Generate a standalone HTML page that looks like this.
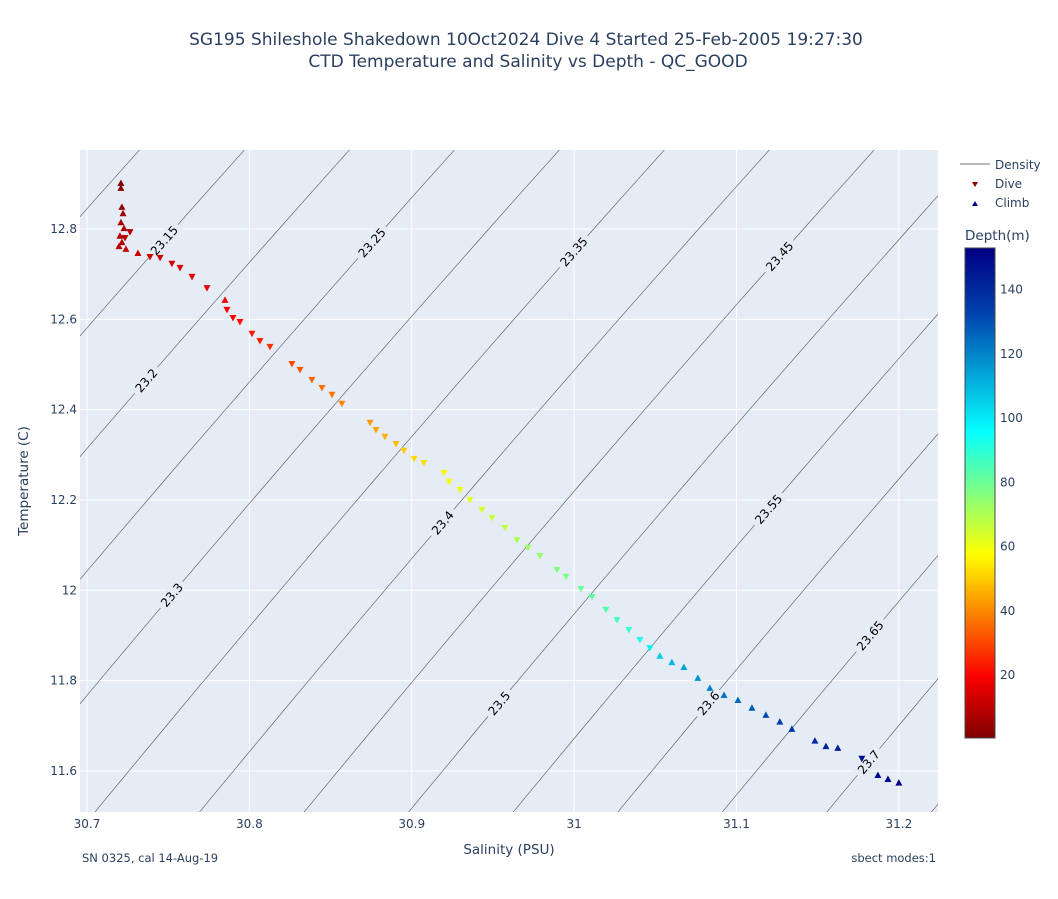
<!DOCTYPE html>
<html><head><meta charset="utf-8">
<style>
html,body{margin:0;padding:0;background:#fff;}
svg text{font-family:"DejaVu Sans","Liberation Sans",sans-serif;}
</style></head>
<body>
<svg id="chart" width="1058" height="894" viewBox="0 0 1058 894" xmlns="http://www.w3.org/2000/svg">
<defs>
<clipPath id="clip"><rect x="80" y="150" width="858" height="662"/></clipPath>
<linearGradient id="jet" x1="0" y1="1" x2="0" y2="0">
<stop offset="0" stop-color="rgb(128,0,0)"/>
<stop offset="0.125" stop-color="rgb(250,0,0)"/>
<stop offset="0.375" stop-color="rgb(255,255,0)"/>
<stop offset="0.625" stop-color="rgb(5,255,255)"/>
<stop offset="0.875" stop-color="rgb(0,60,170)"/>
<stop offset="1" stop-color="rgb(0,0,131)"/>
</linearGradient>
</defs>
<text x="526" y="45" text-anchor="middle" font-size="17" fill="#2a3f5f">SG195 Shileshole Shakedown 10Oct2024 Dive 4 Started 25-Feb-2005 19:27:30</text>
<text x="528" y="67" text-anchor="middle" font-size="17" fill="#2a3f5f">CTD Temperature and Salinity vs Depth - QC_GOOD</text>
<rect x="80" y="150" width="858" height="662" fill="#e5ecf6"/>
<g id="grid"></g>
<g id="contours" clip-path="url(#clip)"></g>
<g id="marks" clip-path="url(#clip)"></g>
<g id="axes"></g>
<text x="509" y="854" text-anchor="middle" font-size="13.5" fill="#2a3f5f">Salinity (PSU)</text>
<text transform="translate(28,481) rotate(-90)" text-anchor="middle" font-size="13.5" fill="#2a3f5f">Temperature (C)</text>
<text x="82" y="862" font-size="11.5" fill="#2a3f5f">SN 0325, cal 14-Aug-19</text>
<text x="936" y="862" text-anchor="end" font-size="11.5" fill="#2a3f5f">sbect modes:1</text>
<g>
<g><line x1="960" y1="164" x2="990" y2="164" stroke="#444" stroke-width="0.8"/><text x="995" y="169" font-size="12" fill="#2a3f5f">Density</text></g>
<g><path d="M972,182 L978,182 L975,187 Z" fill="#8b0000"/><text x="995" y="188" font-size="12" fill="#2a3f5f">Dive</text></g>
<g><path d="M972,206 L978,206 L975,201 Z" fill="#00008b"/><text x="995" y="207" font-size="12" fill="#2a3f5f">Climb</text></g>
</g>
<text x="965" y="240" font-size="13.5" fill="#2a3f5f">Depth(m)</text>
<rect x="965" y="248" width="30" height="490" fill="url(#jet)" stroke="#444" stroke-width="1"/>
<g id="cbticks"></g>
</svg>
<script>
const xTicks=[30.7,30.8,30.9,31,31.1,31.2];
const yTicks=[11.6,11.8,12,12.2,12.4,12.6,12.8];
const densityLevels=[23.1,23.15,23.2,23.25,23.3,23.35,23.4,23.45,23.5,23.55,23.6,23.65,23.7,23.75,23.8];
const labelLevels=[23.15,23.2,23.25,23.3,23.35,23.4,23.45,23.5,23.55,23.6,23.65,23.7];
const labelTemps=[12.775,12.465,12.77,11.99,12.75,12.15,12.74,11.75,12.18,11.75,11.9,11.62];
const cbTicks=[20,40,60,80,100,120,140];
const diveS=[30.7265,30.7234,30.7388,30.745,30.7523,30.7573,30.7647,30.7739,30.7862,30.7899,30.7942,30.8016,30.8065,30.8127,30.8262,30.8312,30.8385,30.8447,30.8509,30.857,30.8743,30.878,30.8835,30.8903,30.8952,30.9014,30.9075,30.9198,30.9229,30.9297,30.9358,30.9432,30.9494,30.9574,30.9648,30.9716,30.9789,30.9894,30.995,31.0042,31.011,31.0196,31.0264,31.0337,31.0405,31.0467,31.1772];
const diveT=[12.793,12.780,12.738,12.736,12.723,12.714,12.694,12.669,12.621,12.603,12.594,12.568,12.552,12.539,12.501,12.488,12.466,12.448,12.433,12.413,12.371,12.355,12.340,12.324,12.309,12.291,12.282,12.260,12.240,12.222,12.200,12.178,12.160,12.138,12.111,12.094,12.076,12.045,12.030,12.003,11.985,11.957,11.934,11.912,11.890,11.872,11.627];
const diveD=[8,9,12,13,14,15,16,17,19,20,21,23,24,26,30,32,34,36,37,39,42,44,46,48,50,52,53,56,58,60,62,64,66,68,70,72,74,77,78,80,82,84,86,88,92,98,147];
const climbS=[30.7209,30.7209,30.7215,30.7222,30.7209,30.7228,30.7203,30.7215,30.7197,30.724,30.7314,30.785,31.0528,31.0602,31.0676,31.0762,31.0836,31.0923,31.1009,31.1095,31.1181,31.1267,31.1341,31.1483,31.1551,31.1624,31.1871,31.1933,31.2];
const climbT=[12.902,12.891,12.849,12.835,12.815,12.802,12.785,12.771,12.762,12.756,12.747,12.643,11.855,11.841,11.830,11.806,11.784,11.768,11.757,11.740,11.724,11.709,11.693,11.667,11.655,11.651,11.591,11.582,11.574];
const climbD=[1,2,4,5,6,7,8,9,10,11,12,19,106,110,114,117,120,123,125,128,131,134,136,140,142,144,149,150,152];

const NS="http://www.w3.org/2000/svg";
const X0=80,X1=938,Y0=150,Y1=812;
const sMin=30.6957,sMax=31.2241,tMin=11.509,tMax=12.975;
const dMin=0.4,dMax=153;
function xs(s){return X0+(s-sMin)/(sMax-sMin)*(X1-X0);}
function ys(t){return Y1-(t-tMin)/(tMax-tMin)*(Y1-Y0);}
function cy(d){return 738-(d-dMin)/(dMax-dMin)*490;}
function mk(tag,attrs,parent){const e=document.createElementNS(NS,tag);for(const k in attrs)e.setAttribute(k,attrs[k]);parent.appendChild(e);return e;}
function sigma(S,T){
 const rw=999.842594+6.793952e-2*T-9.095290e-3*T*T+1.001685e-4*T**3-1.120083e-6*T**4+6.536332e-9*T**5;
 const A=8.24493e-1-4.0899e-3*T+7.6438e-5*T*T-8.2467e-7*T**3+5.3875e-9*T**4;
 const B=-5.72466e-3+1.0227e-4*T-1.6546e-6*T*T;
 return rw+A*S+B*Math.pow(S,1.5)+4.8314e-4*S*S-1000+0.0055;
}
function sAt(sig,T){let S=31;for(let i=0;i<30;i++){const f=sigma(S,T)-sig;const df=(sigma(S+0.001,T)-sigma(S-0.001,T))/0.002;S-=f/df;}return S;}
const stops=[[0,[0,0,131]],[0.125,[0,60,170]],[0.375,[5,255,255]],[0.625,[255,255,0]],[0.875,[250,0,0]],[1,[128,0,0]]];
function jet(d){let t=1-(d-dMin)/(dMax-dMin);t=Math.max(0,Math.min(1,t));
 for(let i=1;i<stops.length;i++){if(t<=stops[i][0]){const a=stops[i-1],b=stops[i];const f=(t-a[0])/(b[0]-a[0]);
 return 'rgb('+a[1].map((v,j)=>Math.round(v+(b[1][j]-v)*f)).join(',')+')';}}return 'rgb(128,0,0)';}

const grid=document.getElementById('grid'),axes=document.getElementById('axes');
xTicks.forEach(v=>{const x=xs(v);
 const l=mk('line',{x1:x,x2:x,y1:Y0,y2:Y1,stroke:'#fff','stroke-width':1},grid);
 
 
 const t=mk('text',{x:x,y:828,'text-anchor':'middle','font-size':12,fill:'#2a3f5f'},axes);t.textContent=String(v);
 
 
});
yTicks.forEach(v=>{const y=ys(v);
 const l=mk('line',{x1:X0,x2:X1,y1:y,y2:y,stroke:'#fff','stroke-width':1},grid);
 
 
 const t=mk('text',{x:77,y:y+4,'text-anchor':'end','font-size':12,fill:'#2a3f5f'},axes);t.textContent=String(v);
 
 
});
const cg=document.getElementById('contours');
densityLevels.forEach(lv=>{let d='';for(let i=0;i<=20;i++){const T=tMin-0.05+(tMax-tMin+0.1)*i/20;d+=(i?'L':'M')+xs(sAt(lv,T)).toFixed(1)+','+ys(T).toFixed(1);}
 const p=mk('path',{d:d,fill:'none',stroke:'#555','stroke-width':0.6},cg);
 
 
});
labelLevels.forEach((lv,i)=>{const T=labelTemps[i];const S=sAt(lv,T);const x=xs(S),y=ys(T);
 const x2=xs(sAt(lv,T+0.1)),y2=ys(T+0.1);const ang=Math.atan2(y2-y,x2-x)*180/Math.PI;
 const g=mk('g',{transform:'translate('+x+','+y+') rotate('+ang+')'},cg);
 
 
 const w=String(lv).length*7.6+4;
 mk('rect',{x:-w/2,y:-7,width:w,height:14,fill:'#e5ecf6'},g);
 const t=mk('text',{x:0,y:4.5,'text-anchor':'middle','font-size':12,fill:'#000'},g);t.textContent=String(lv);
});
const mg=document.getElementById('marks');
diveS.forEach((s,i)=>{const x=xs(s),y=ys(diveT[i]);
 const p=mk('path',{d:`M${x-3.5},${y-3} L${x+3.5},${y-3} L${x},${y+3.5} Z`,fill:jet(diveD[i])},mg);
 
 
});
climbS.forEach((s,i)=>{const x=xs(s),y=ys(climbT[i]);
 const p=mk('path',{d:`M${x-3.5},${y+3} L${x+3.5},${y+3} L${x},${y-3.5} Z`,fill:jet(climbD[i])},mg);
 
 
});
const cb=document.getElementById('cbticks');
cbTicks.forEach(v=>{const t=mk('text',{x:1000,y:cy(v)+4,'font-size':12,fill:'#2a3f5f'},cb);t.textContent=String(v);
 
 
});
</script>
</body></html>
